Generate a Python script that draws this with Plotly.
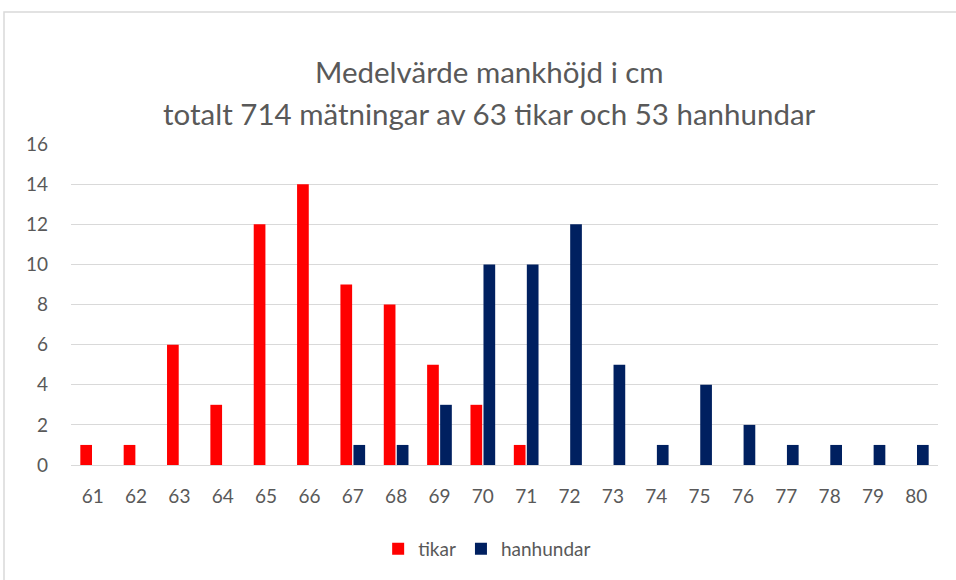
import plotly.graph_objects as go

categories = [str(c) for c in range(61, 81)]
tikar = [1, 1, 6, 3, 12, 14, 9, 8, 5, 3, 1, 0, 0, 0, 0, 0, 0, 0, 0, 0]
hanhundar = [0, 0, 0, 0, 0, 0, 1, 1, 3, 10, 10, 12, 5, 1, 4, 2, 1, 1, 1, 1]
title_lines = ["Medelvärde mankhöjd i cm", "totalt 714 mätningar av 63 tikar och 53 hanhundar"]

FONT = "Lato, Carlito, Calibri, sans-serif"
GREY = "#595959"

fig = go.Figure()
fig.add_trace(go.Bar(x=categories, y=tikar, name="tikar", marker_color="#FF0000",
                     marker_line_width=0))
fig.add_trace(go.Bar(x=categories, y=hanhundar, name="hanhundar", marker_color="#002060",
                     marker_line_width=0))

L, R, T, B = 71, 18, 144, 115
W, H = 956, 580
pw = W - L - R
ph = H - T - B

fig.update_layout(
    width=W, height=H,
    margin=dict(l=L, r=R, t=T, b=B),
    paper_bgcolor="white", plot_bgcolor="white",
    barmode="group", bargap=0.4, bargroupgap=0.1,
    font=dict(family=FONT, color=GREY, size=19),
    xaxis=dict(type="category", showgrid=False, zeroline=False, showline=False,
               ticks="", tickfont=dict(size=19, color=GREY), ticklabelstandoff=18),
    yaxis=dict(range=[0, 16], dtick=2, showgrid=True, gridcolor="#D9D9D9", gridwidth=1.3,
               zeroline=True, zerolinecolor="#D9D9D9", zerolinewidth=1.3,
               showline=False, ticks="", tickfont=dict(size=19, color=GREY),
               ticklabelstandoff=22),
    legend=dict(orientation="h", x=0.48, xanchor="center", y=(465 - 549) / ph,
                yanchor="middle", font=dict(size=19, color=GREY), traceorder="normal"),
    showlegend=True,
)

# title lines as annotations for exact placement
for txt, ypix in zip(title_lines, [72, 113]):
    fig.add_annotation(text=txt, xref="paper", yref="paper",
                       x=(489 - L) / pw, y=(465 - ypix) / ph,
                       xanchor="center", yanchor="middle", showarrow=False,
                       font=dict(family=FONT, size=29.5, color=GREY))

fig.add_shape(type="rect", xref="paper", yref="paper",
              x0=(4 - L) / pw, x1=(W + 10 - L) / pw,
              y0=(465 - (H + 10)) / ph, y1=(465 - 12) / ph,
              line=dict(color="#D9D9D9", width=1.5), fillcolor="rgba(0,0,0,0)",
              layer="below")

fig.write_html("out.html", config={"displayModeBar": False},
               post_script="document.body.style.margin='0';document.body.style.overflow='hidden';")
